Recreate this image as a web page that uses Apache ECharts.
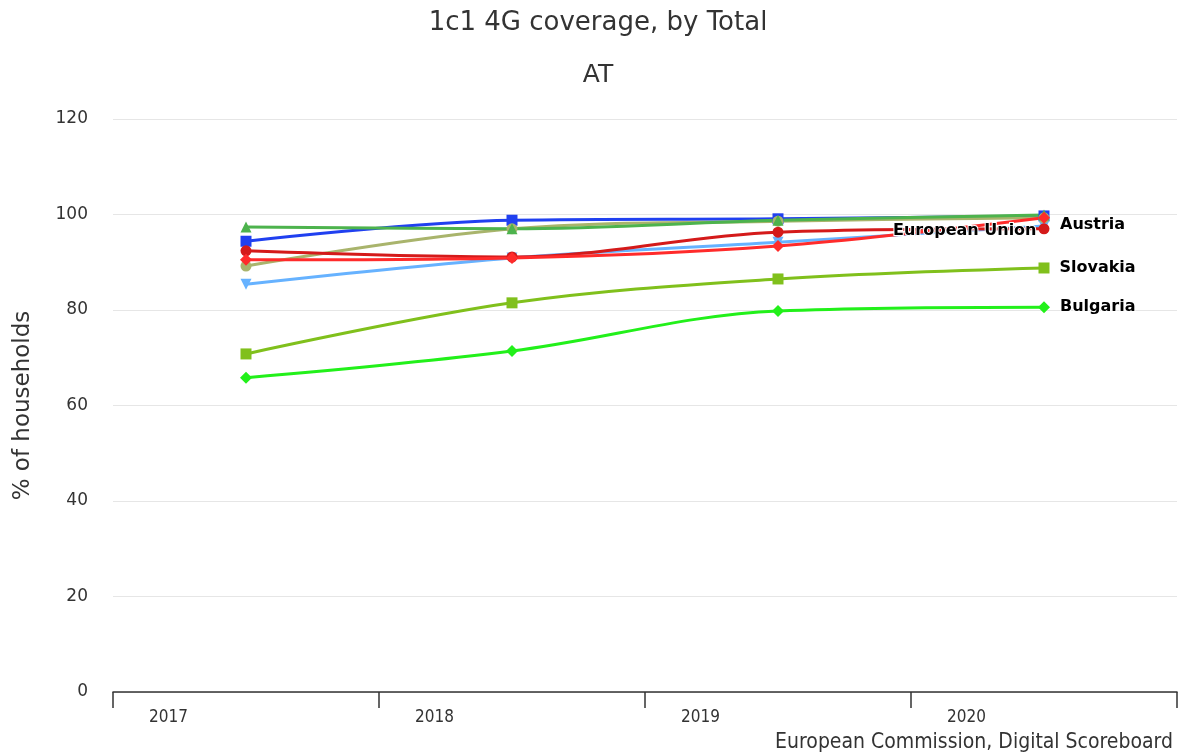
<!DOCTYPE html>
<html>
<head>
<meta charset="utf-8">
<script src="https://cdn.jsdelivr.net/npm/echarts@6/dist/echarts.min.js"></script>
<style>
html,body{margin:0;padding:0;background:#fff;}
#main{width:1196px;height:756px;}
</style>
</head>
<body>
<div id="main"></div>
<script>
const years = ['2017', '2018', '2019', '2020'];
const yTicks = { min: 0, max: 120, interval: 20 };

const blueSq = [94.4, 98.8, 99.1, 99.7];
const lightBlueTri = [85.4, 90.9, 94.2, 97.6];
const tanCircle = [89.2, 97.0, 98.6, 99.3];
const greenTri = [97.4, 97.0, 98.8, 99.9];
const euValues = [92.4, 91.1, 96.3, 97.0];
const austria = [90.5, 90.9, 93.4, 99.3];
const slovakia = [70.8, 81.5, 86.5, 88.8];
const bulgaria = [65.8, 71.4, 79.8, 80.6];

const FONT = 'DejaVu Sans';
const COND = 'DejaVu Sans Condensed, DejaVu Sans';

function withLastLabel(values, name, pos, offset) {
  return values.map((v, i) => {
    if (i !== values.length - 1 || !name) return v;
    return {
      value: v,
      label: {
        show: true,
        formatter: name,
        position: pos,
        distance: pos === 'left' ? 2 : 10,
        offset: offset || [0, 0],
        color: '#000',
        fontFamily: FONT,
        fontWeight: 'bold',
        fontSize: 16,
        textBorderColor: '#fff',
        textBorderWidth: 2
      }
    };
  });
}

function mk(name, values, color, symbol, label, pos, offset) {
  return {
    name: name,
    type: 'line',
    smooth: 0.35,
    data: withLastLabel(values, label, pos, offset),
    symbol: symbol,
    symbolSize: symbol === 'diamond' ? 12 : 11,
    showAllSymbol: true,
    lineStyle: { color: color, width: 3 },
    itemStyle: { color: color },
    emphasis: { disabled: true },
    z: 2
  };
}

const chart = echarts.init(document.getElementById('main'), null, { renderer: 'canvas' });
chart.setOption({
  animation: false,
  backgroundColor: '#fff',
  title: [
    { text: '1c1 4G coverage, by Total', left: 'center', top: 5,
      textStyle: { fontFamily: FONT, fontSize: 26, fontWeight: 'normal', color: '#333' } },
    { text: 'AT', left: 'center', top: 58,
      textStyle: { fontFamily: FONT, fontSize: 25, fontWeight: 'normal', color: '#333' } }
  ],
  grid: { left: 113, right: 19, top: 119, bottom: 64, containLabel: false },
  xAxis: {
    type: 'category',
    data: years,
    boundaryGap: true,
    axisLine: { show: true, lineStyle: { color: '#333', width: 1.5 } },
    axisTick: { show: true, length: 16, lineStyle: { color: '#333', width: 1.5 } },
    axisLabel: {
      fontFamily: COND, fontSize: 17, color: '#333', margin: 17,
      align: 'center', padding: [0, 155, 0, 0]
    },
    splitLine: { show: false }
  },
  yAxis: {
    type: 'value',
    min: yTicks.min, max: yTicks.max, interval: yTicks.interval,
    name: '% of households',
    nameLocation: 'middle',
    nameGap: 78,
    nameRotate: 90,
    nameTextStyle: { fontFamily: FONT, fontSize: 23, color: '#333' },
    axisLine: { show: false },
    axisTick: { show: false },
    axisLabel: { fontFamily: FONT, fontSize: 17, color: '#333', margin: 25 },
    splitLine: { lineStyle: { color: '#e6e6e6', width: 1 } }
  },
  series: [
    mk('Series blue', blueSq, '#2040f0', 'rect'),
    mk('Series light blue', lightBlueTri, '#66b2ff', 'path://M0,0 L10,0 L5,9 Z'),
    mk('Series tan', tanCircle, '#a9b46c', 'circle'),
    mk('Series green', greenTri, '#4db34d', 'triangle'),
    mk('European Union', euValues, '#d41a1a', 'circle', 'European Union', 'left', [0, 2]),
    mk('Austria', austria, '#ff2b2b', 'diamond', 'Austria', 'right', [0, 7]),
    mk('Slovakia', slovakia, '#80c01c', 'rect', 'Slovakia', 'right'),
    mk('Bulgaria', bulgaria, '#22f01a', 'diamond', 'Bulgaria', 'right')
  ],
  graphic: [
    { type: 'text', right: 23, top: 732,
      style: { text: 'European Commission, Digital Scoreboard', fontFamily: COND, fontSize: 21, fill: '#333' } }
  ]
});
</script>
</body>
</html>
